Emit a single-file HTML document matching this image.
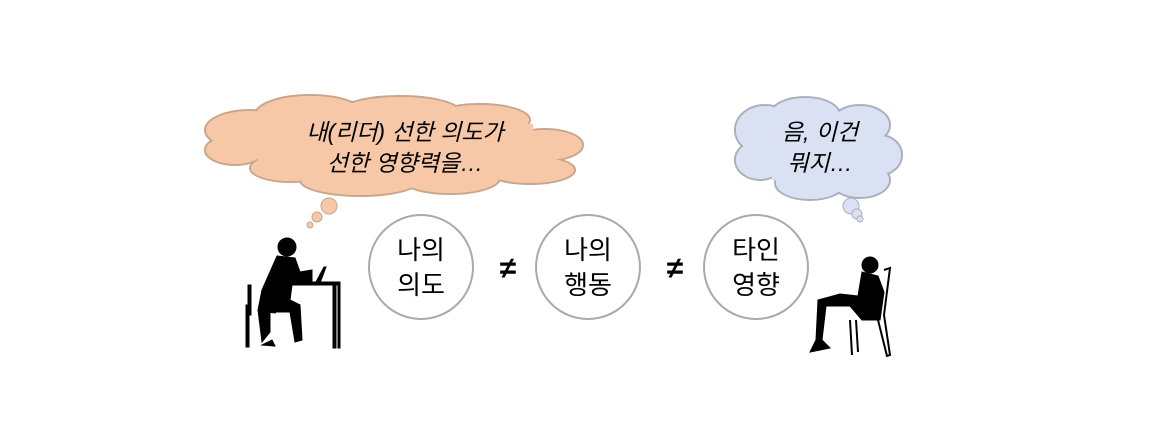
<!DOCTYPE html>
<html><head><meta charset="utf-8"><style>
html,body{margin:0;padding:0;background:#fff;}
svg{display:block}
text{font-family:"Liberation Sans","Noto Sans CJK KR",sans-serif;}
</style></head><body>
<svg width="1168" height="432" viewBox="0 0 1168 432" xmlns="http://www.w3.org/2000/svg">
<g fill="#f6c8a8" stroke="#c9a58c" stroke-width="2">
<ellipse cx="250" cy="130" rx="45" ry="20"/>
<ellipse cx="235" cy="150" rx="30" ry="15"/>
<ellipse cx="310" cy="115" rx="55" ry="20"/>
<ellipse cx="400" cy="112" rx="60" ry="16"/>
<ellipse cx="480" cy="120" rx="50" ry="16"/>
<ellipse cx="545" cy="145" rx="38" ry="16"/>
<ellipse cx="530" cy="170" rx="45" ry="14"/>
<ellipse cx="450" cy="178" rx="50" ry="16"/>
<ellipse cx="360" cy="180" rx="60" ry="16"/>
<ellipse cx="290" cy="168" rx="40" ry="14"/>
</g>
<g fill="#f6c8a8">
<ellipse cx="250" cy="130" rx="44" ry="19"/>
<ellipse cx="235" cy="150" rx="29" ry="14"/>
<ellipse cx="310" cy="115" rx="54" ry="19"/>
<ellipse cx="400" cy="112" rx="59" ry="15"/>
<ellipse cx="480" cy="120" rx="49" ry="15"/>
<ellipse cx="545" cy="145" rx="37" ry="15"/>
<ellipse cx="530" cy="170" rx="44" ry="13"/>
<ellipse cx="450" cy="178" rx="49" ry="15"/>
<ellipse cx="360" cy="180" rx="59" ry="15"/>
<ellipse cx="290" cy="168" rx="39" ry="13"/>
<rect x="258" y="124" width="275" height="52"/>
</g>
<circle cx="329" cy="206" r="8" fill="#f6c8a8" stroke="#c9a58c"/>
<circle cx="317" cy="217" r="5" fill="#f6c8a8" stroke="#c9a58c"/>
<circle cx="310" cy="225" r="3" fill="#f6c8a8" stroke="#c9a58c"/>
<text x="405" y="140" font-size="23" font-style="italic" text-anchor="middle">내(리더) 선한 의도가</text>
<text x="405" y="171" font-size="23" font-style="italic" text-anchor="middle">선한 영향력을…</text>

<g fill="#d9e1f2" stroke="#aab0bb" stroke-width="2">
<ellipse cx="765" cy="130" rx="30" ry="25"/>
<ellipse cx="805" cy="115" rx="35" ry="18"/>
<ellipse cx="860" cy="125" rx="30" ry="20"/>
<ellipse cx="880" cy="155" rx="22" ry="20"/>
<ellipse cx="860" cy="180" rx="30" ry="18"/>
<ellipse cx="810" cy="183" rx="35" ry="17"/>
<ellipse cx="760" cy="160" rx="25" ry="20"/>
</g>
<g fill="#d9e1f2">
<ellipse cx="765" cy="130" rx="29" ry="24"/>
<ellipse cx="805" cy="115" rx="34" ry="17"/>
<ellipse cx="860" cy="125" rx="29" ry="19"/>
<ellipse cx="880" cy="155" rx="21" ry="19"/>
<ellipse cx="860" cy="180" rx="29" ry="17"/>
<ellipse cx="810" cy="183" rx="34" ry="16"/>
<ellipse cx="760" cy="160" rx="24" ry="19"/>
<rect x="772" y="125" width="92" height="55"/>
</g>
<circle cx="851" cy="206" r="8" fill="#d9e1f2" stroke="#aab0bb"/>
<circle cx="857" cy="214" r="5" fill="#d9e1f2" stroke="#aab0bb"/>
<circle cx="860" cy="219" r="3" fill="#d9e1f2" stroke="#aab0bb"/>
<text x="820" y="140" font-size="23" font-style="italic" text-anchor="middle">음, 이건</text>
<text x="820" y="171" font-size="23" font-style="italic" text-anchor="middle">뭐지…</text>

<g fill="#fff" stroke="#aaa" stroke-width="2">
<circle cx="421" cy="267" r="52"/>
<circle cx="588" cy="267" r="52"/>
<circle cx="756" cy="267" r="52"/>
</g>
<g font-size="26" text-anchor="middle">
<text x="421" y="259">나의</text><text x="421" y="294">의도</text>
<text x="588" y="259">나의</text><text x="588" y="294">행동</text>
<text x="756" y="259">타인</text><text x="756" y="294">영향</text>
<text x="508" y="278" font-size="30" font-weight="bold">≠</text>
<text x="675" y="278" font-size="30" font-weight="bold">≠</text>
</g>

<g fill="#000" stroke="#000">
<circle cx="287" cy="247" r="9"/>
<path d="M277 256 L295 258 L300 272 L312 270 L312 282 L292 285 L290 300 L300 305 L302 340 L295 342 L290 312 L270 312 L270 332 L262 342 L258 310 L262 290 Z"/>
<path d="M262 345 L272 340 L275 346 Z"/>
<rect x="246" y="305" width="3" height="42"/>
<rect x="248" y="285" width="3" height="30"/>
<path d="M258 310 L276 312" stroke-width="3"/>
<rect x="290" y="282" width="50" height="3"/>
<rect x="333" y="282" width="3" height="66"/>
<rect x="338" y="284" width="2" height="64"/>
<path d="M316 282 L324 267 L326 267 L320 283 Z"/>
</g>
<g fill="#000" stroke="#000">
<circle cx="870" cy="265" r="8"/>
<path d="M862 272 L878 276 L884 292 L880 320 L862 320 L850 306 L826 306 L822 340 L830 348 L810 352 L816 340 L818 300 L840 294 L858 296 Z"/>
<path d="M884 270 L890 268 L884 315 L890 355 L887 356 L878 320" fill="none" stroke-width="2"/>
<path d="M850 320 L852 355 M856 320 L858 352" stroke-width="2" fill="none"/>
</g>
</svg>
</body></html>
